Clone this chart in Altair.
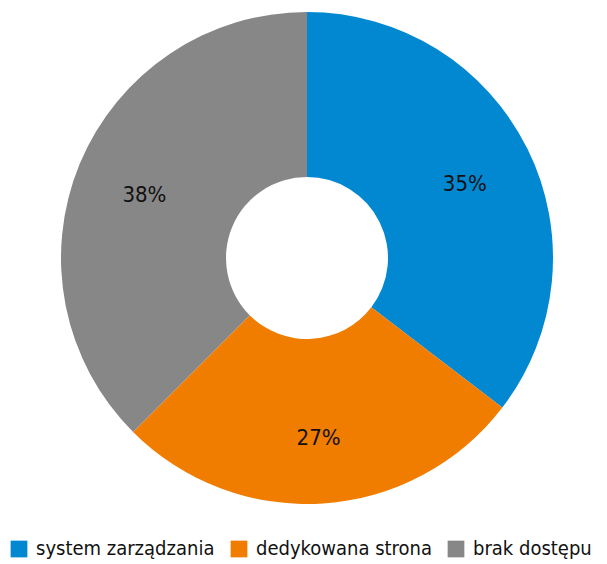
import altair as alt
import pandas as pd

categories = ["system zarządzania", "dedykowana strona", "brak dostępu"]
values = [35.4, 27.1, 37.5]
labels = ["35%", "27%", "38%"]
colors = ["#0288d1", "#f07d00", "#878787"]

df = pd.DataFrame({"cat": categories, "val": values, "lab": labels, "order": [0, 1, 2]})

FONT = "DejaVu Sans Condensed"

base = alt.Chart(df).encode(
    theta=alt.Theta("val:Q", stack=True),
    order=alt.Order("order:Q"),
)

arc = base.mark_arc(outerRadius=246, innerRadius=81).encode(
    x=alt.value(307),
    y=alt.value(258),
    color=alt.Color(
        "cat:N",
        scale=alt.Scale(domain=categories, range=colors),
        sort=categories,
        legend=alt.Legend(
            title=None,
            orient="none",
            legendX=9,
            legendY=539,
            direction="horizontal",
            symbolType="square",
            symbolSize=280,
            symbolStrokeWidth=0,
            labelFont=FONT,
            labelFontSize=20,
            labelColor="#111111",
            columnPadding=14,
            symbolOffset=0,
            labelOffset=7,
            labelLimit=400,
        ),
    ),
)

text = base.mark_text(radius=176, font=FONT, fontSize=22, color="#111111").encode(
    x=alt.value(307),
    y=alt.value(262),
    text="lab:N",
)

chart = (
    alt.layer(arc, text)
    .properties(width=607, height=564, autosize="none", padding=0)
    .configure_view(stroke=None)
)

chart.save("out.html", embed_options={"renderer": "svg", "actions": False})
